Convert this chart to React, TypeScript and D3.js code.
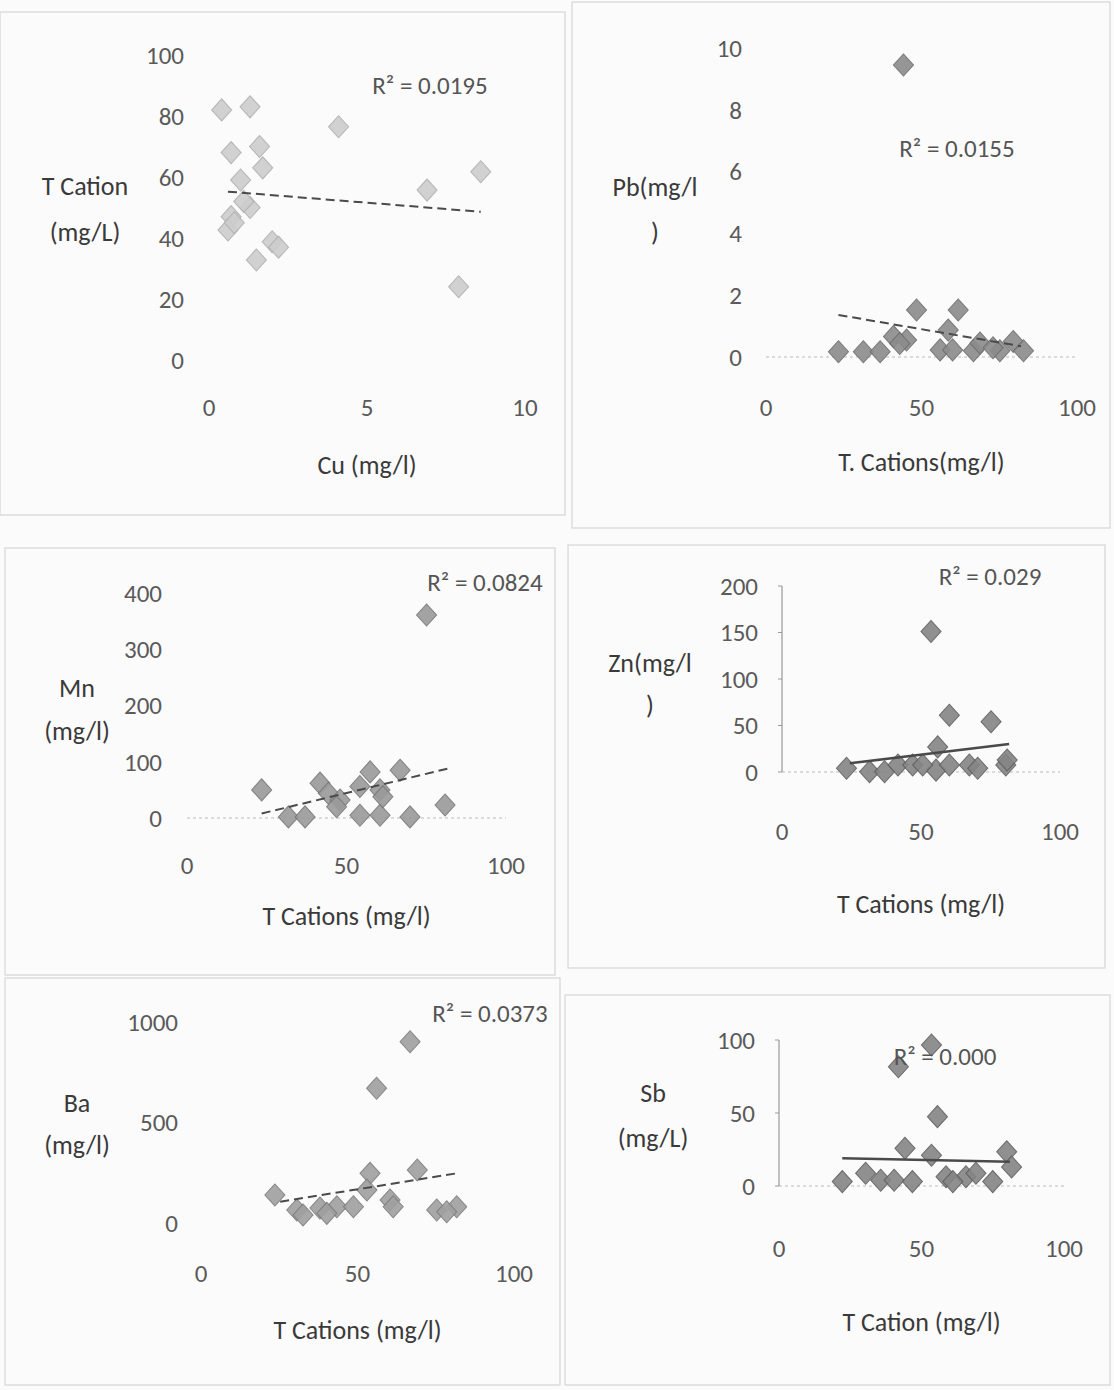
import React from 'react';
import * as d3 from 'd3';

// Cu vs total cations
const cuValues = [0.4, 1.3, 4.1, 0.7, 1.6, 1.7, 1.0, 1.3, 0.7, 0.6, 2.0, 1.5, 6.9, 8.6, 7.9, 0.8, 1.1, 2.2];
const cuCations = [82, 83, 76.5, 68, 70, 63, 59, 50, 47, 42.6, 38.8, 32.8, 55.7, 61.7, 24, 45, 52, 37];
const cuTrend = [[0.6, 55.2], [8.6, 48.6]];

// Pb vs total cations
const pbCations = [44.2, 23.3, 31.3, 36.7, 41, 45.2, 48.4, 56, 58.6, 60, 61.8, 66.7, 68.8, 75.2, 79.5, 82.8, 43, 73];
const pbValues = [9.45, 0.17, 0.17, 0.17, 0.66, 0.55, 1.52, 0.23, 0.87, 0.23, 1.52, 0.2, 0.45, 0.2, 0.5, 0.2, 0.44, 0.3];
const pbTrend = [[23.3, 1.36], [82, 0.35]];

// Mn vs total cations
const mnCations = [75.1, 23.4, 31.8, 37, 41.7, 44.3, 48, 46.9, 54.2, 57.4, 60.5, 54.2, 60.5, 66.8, 69.9, 80.9, 61.4];
const mnValues = [361, 50, 2, 2, 62, 44, 32, 20, 56, 82, 50, 5, 5, 85, 2, 23, 38];
const mnTrend = [[23.4, 8], [81.9, 88]];

// Zn vs total cations
const znCations = [53.6, 60.2, 75.2, 23.2, 31.5, 36.9, 41.7, 47, 56, 55.4, 60.2, 67.4, 70.4, 80.5, 81, 50.6];
const znValues = [151, 61, 54, 4, 0.3, 0.3, 7.5, 7.5, 27, 2, 7.5, 7.5, 4, 7.5, 13, 7.5];
const znTrend = [[24.4, 9.3], [81.7, 30]];

// Ba vs total cations
const baCations = [66.8, 56.1, 23.6, 54, 69.1, 30.6, 38, 43.4, 48.7, 40.2, 32.6, 60.4, 61.4, 75.3, 81.7, 78.5, 53];
const baValues = [902, 670, 139, 247, 264, 65, 75, 81, 81, 48, 40, 114, 81, 65, 81, 56, 164];
const baTrend = [[25.3, 106], [81.7, 247]];

// Sb vs total cations
const sbCations = [41.9, 53.5, 55.6, 44.2, 53.5, 79.9, 81.6, 22.2, 30.4, 35.7, 40.4, 46.8, 58.6, 65.6, 69.1, 75, 61];
const sbValues = [81.7, 96.6, 47.5, 25.8, 21, 23.5, 13, 3, 8.7, 4, 4, 3, 6.4, 6.4, 8.7, 3, 3];
const sbTrend = [[22.2, 19], [81, 16.6]];

const panels = [
  {
    xs: cuValues, ys: cuCations, trend: cuTrend, r2: 'R² = 0.0195',
    xDomain: [0, 10], xTicks: [0, 5, 10], yDomain: [0, 100], yTicks: [0, 20, 40, 60, 80, 100],
    xTitle: 'Cu (mg/l)', yTitle: ['T Cation', '(mg/L)'],
    box: [0, 12, 565, 515], px: [209, 525], py: [360, 55],
    xTickY: 407, yTickX: 184, xTitleY: 465, yTitleX: 85, yTitleY: [186, 232], r2Pos: [430, 85],
    dashed: true, fill: '#cdcdcd', stroke: '#b0b0b0', yAxis: false, xAxis: false,
  },
  {
    xs: pbCations, ys: pbValues, trend: pbTrend, r2: 'R² = 0.0155',
    xDomain: [0, 100], xTicks: [0, 50, 100], yDomain: [0, 10], yTicks: [0, 2, 4, 6, 8, 10],
    xTitle: 'T. Cations(mg/l)', yTitle: ['Pb(mg/l', ')'],
    box: [572, 2, 1110, 528], px: [766, 1077], py: [357, 48],
    xTickY: 407, yTickX: 742, xTitleY: 462, yTitleX: 655, yTitleY: [187, 232], r2Pos: [957, 148],
    dashed: true, fill: '#8c8c8c', stroke: '#6e6e6e', yAxis: false, xAxis: true,
  },
  {
    xs: mnCations, ys: mnValues, trend: mnTrend, r2: 'R² = 0.0824',
    xDomain: [0, 100], xTicks: [0, 50, 100], yDomain: [0, 400], yTicks: [0, 100, 200, 300, 400],
    xTitle: 'T Cations (mg/l)', yTitle: ['Mn', '(mg/l)'],
    box: [5, 548, 555, 975], px: [187, 506], py: [818, 593],
    xTickY: 865, yTickX: 162, xTitleY: 916, yTitleX: 77, yTitleY: [688, 731], r2Pos: [485, 582],
    dashed: true, fill: '#9a9a9a', stroke: '#777', yAxis: false, xAxis: true,
  },
  {
    xs: znCations, ys: znValues, trend: znTrend, r2: 'R² = 0.029',
    xDomain: [0, 100], xTicks: [0, 50, 100], yDomain: [0, 200], yTicks: [0, 50, 100, 150, 200],
    xTitle: 'T Cations (mg/l)', yTitle: ['Zn(mg/l', ')'],
    box: [568, 545, 1105, 968], px: [782, 1060], py: [772, 586],
    xTickY: 831, yTickX: 758, xTitleY: 904, yTitleX: 650, yTitleY: [663, 705], r2Pos: [990, 576],
    dashed: false, fill: '#858585', stroke: '#5e5e5e', yAxis: true, xAxis: true,
  },
  {
    xs: baCations, ys: baValues, trend: baTrend, r2: 'R² = 0.0373',
    xDomain: [0, 100], xTicks: [0, 50, 100], yDomain: [0, 1000], yTicks: [0, 500, 1000],
    xTitle: 'T Cations (mg/l)', yTitle: ['Ba', '(mg/l)'],
    box: [5, 978, 560, 1385], px: [201, 514], py: [1223, 1022],
    xTickY: 1273, yTickX: 178, xTitleY: 1330, yTitleX: 77, yTitleY: [1103, 1145], r2Pos: [490, 1013],
    dashed: true, fill: '#a0a0a0', stroke: '#7c7c7c', yAxis: false, xAxis: false,
  },
  {
    xs: sbCations, ys: sbValues, trend: sbTrend, r2: 'R² = 0.000',
    xDomain: [0, 100], xTicks: [0, 50, 100], yDomain: [0, 100], yTicks: [0, 50, 100],
    xTitle: 'T Cation (mg/l)', yTitle: ['Sb', '(mg/L)'],
    box: [565, 995, 1110, 1385], px: [779, 1064], py: [1186, 1040],
    xTickY: 1248, yTickX: 755, xTitleY: 1322, yTitleX: 653, yTitleY: [1093, 1138], r2Pos: [945, 1056],
    dashed: false, fill: '#858585', stroke: '#5e5e5e', yAxis: true, xAxis: true,
  },
];

const font = "Carlito, 'Liberation Sans Narrow', 'Open Sans', sans-serif";
const marker = d3.symbol(d3.symbolSquare, 200)();

function Panel({ p }: { p: any }) {
  const x = d3.scaleLinear().domain(p.xDomain).range(p.px);
  const y = d3.scaleLinear().domain(p.yDomain).range(p.py);
  const line = d3.line<number[]>().x(d => x(d[0])).y(d => y(d[1]));
  const [bx0, by0, bx1, by1] = p.box;
  return (
    <g>
      <rect x={bx0} y={by0} width={bx1 - bx0} height={by1 - by0} fill="none" stroke="#d6d6d6" strokeWidth={1.2} />
      {p.xAxis && (
        <line x1={x(p.xDomain[0])} x2={x(p.xDomain[1])} y1={y(0)} y2={y(0)}
          stroke="#bbb" strokeWidth={1.2} strokeDasharray="3 3" />
      )}
      {p.yAxis && (
        <g>
          <line x1={x(0)} x2={x(0)} y1={y(p.yDomain[0])} y2={y(p.yDomain[1])} stroke="#999" strokeWidth={1.2} />
          {p.yTicks.map((t: number) => (
            <line key={t} x1={x(0) - 4} x2={x(0)} y1={y(t)} y2={y(t)} stroke="#999" />
          ))}
        </g>
      )}
      {p.yTicks.map((t: number) => (
        <text key={'y' + t} x={p.yTickX} y={y(t)} dy="0.35em" textAnchor="end"
          fontSize={25} fill="#5a5a5a" fontFamily={font}>{t}</text>
      ))}
      {p.xTicks.map((t: number) => (
        <text key={'x' + t} x={x(t)} y={p.xTickY} dy="0.35em" textAnchor="middle"
          fontSize={25} fill="#5a5a5a" fontFamily={font}>{t}</text>
      ))}
      <text x={x((p.xDomain[0] + p.xDomain[1]) / 2)} y={p.xTitleY} dy="0.35em" textAnchor="middle"
        fontSize={26} fill="#3a3a3a" fontFamily={font}>{p.xTitle}</text>
      {p.yTitle.map((s: string, i: number) => (
        <text key={s} x={p.yTitleX} y={p.yTitleY[i]} dy="0.35em" textAnchor="middle"
          fontSize={26} fill="#3a3a3a" fontFamily={font}>{s}</text>
      ))}
      {p.xs.map((v: number, i: number) => (
        <path key={i} d={marker} transform={`translate(${x(v)},${y(p.ys[i])}) scale(1,1.1) rotate(45)`}
          fill={p.fill} stroke={p.stroke} strokeWidth={1} opacity={0.9} />
      ))}
      <path d={line(p.trend) || ''} fill="none" stroke="#4a4a4a" strokeWidth={p.dashed ? 2 : 2.5}
        strokeDasharray={p.dashed ? '9 5' : undefined} />
      <text x={p.r2Pos[0]} y={p.r2Pos[1]} dy="0.35em" textAnchor="middle"
        fontSize={25} fill="#555" fontFamily={font}>{p.r2}</text>
    </g>
  );
}

export default function App() {
  return (
    <svg width={1114} height={1390} style={{ display: 'block', position: 'absolute', left: 0, top: 0 }}>
      <rect width={1114} height={1390} fill="#fbfbfb" />
      {panels.map((p, i) => <Panel key={i} p={p} />)}
    </svg>
  );
}
